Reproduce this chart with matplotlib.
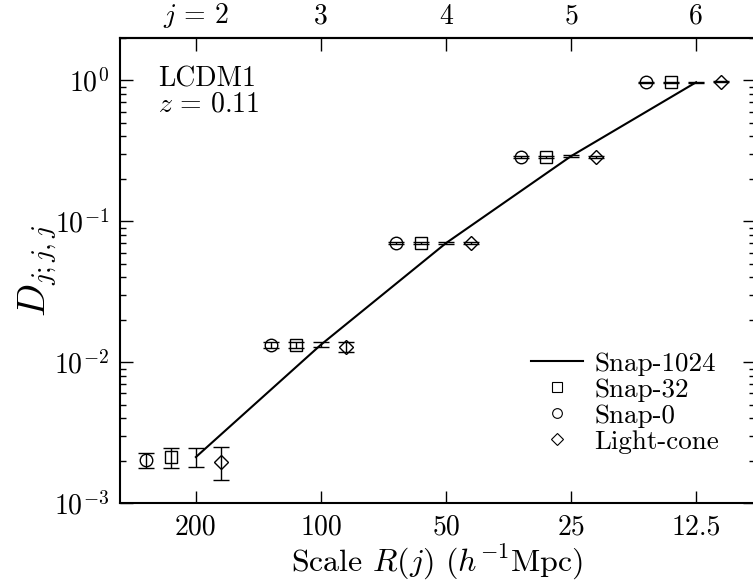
import numpy as np
import matplotlib
matplotlib.use("Agg")
from matplotlib import pyplot as plt
from matplotlib.lines import Line2D
from matplotlib.ticker import FixedLocator, FixedFormatter, LogLocator, NullLocator

plt.rcParams['font.family'] = 'serif'
plt.rcParams['font.serif'] = ['cmr10']
plt.rcParams['mathtext.fontset'] = 'cm'
plt.rcParams['axes.formatter.use_mathtext'] = True

# scales j and R(j) = 800 / 2^j  (h^-1 Mpc)
j = np.array([2, 3, 4, 5, 6])
R = np.array([200, 100, 50, 25, 12.5])
R_labels = ['200', '100', '50', '25', '12.5']
j_labels = ['$j\\,=\\,2$', '3', '4', '5', '6']

# D_{j;j,j} for each run
snap1024 = np.array([2.12e-3, 1.33e-2, 0.070, 0.290, 0.97])
snap1024_err = np.array([0.33e-3, 0.5e-3, 1.0e-3, 4.0e-3, 1.2e-2])
snap32 = np.array([2.12e-3, 1.32e-2, 0.070, 0.285, 0.97])
snap32_err = np.array([0.34e-3, 0.6e-3, 1.0e-3, 4.0e-3, 1.2e-2])
snap0 = np.array([2.02e-3, 1.32e-2, 0.070, 0.285, 0.97])
snap0_err = np.array([0.26e-3, 0.7e-3, 1.0e-3, 4.0e-3, 1.2e-2])
lightcone = np.array([1.97e-3, 1.29e-2, 0.070, 0.287, 0.98])
lightcone_err = np.array([0.52e-3, 1.1e-3, 1.0e-3, 4.0e-3, 1.2e-2])

# small horizontal shift (in units of j) so the runs don't overlap
shift_snap0 = -0.4
shift_snap32 = -0.2
shift_light = 0.2

fig = plt.figure(figsize=(7.53, 5.83), dpi=100)
ax = fig.add_axes([120/753, 80/583, 635/753, 465/583])

ax.set_xscale('log', base=2)
ax.set_yscale('log')

kw = dict(color='black', ecolor='black', elinewidth=1.0, capsize=5.5, capthick=1.0,
          markerfacecolor='none', markeredgecolor='black', markeredgewidth=1.0, markersize=9)

ax.errorbar(R * 2**(-shift_snap0), snap0, yerr=snap0_err, fmt='o', **kw)
ax.errorbar(R * 2**(-shift_snap32), snap32, yerr=snap32_err, fmt='s', **kw)
ax.errorbar(R, snap1024, yerr=snap1024_err, fmt='-', lw=1.5, **kw)
ax.errorbar(R * 2**(-shift_light), lightcone, yerr=lightcone_err, fmt='D', **{**kw, 'markersize': 7.5})

ax.set_xlim(304.6, 9.02)
ax.set_ylim(1e-3, 2.0)

ax.xaxis.set_major_locator(FixedLocator(R))
ax.xaxis.set_major_formatter(FixedFormatter(R_labels))
ax.xaxis.set_minor_locator(NullLocator())
ax.yaxis.set_major_locator(LogLocator(base=10, numticks=10))
ax.yaxis.set_minor_locator(LogLocator(base=10, subs=np.arange(2, 10), numticks=10))

ax.tick_params(which='major', direction='in', length=9, width=1.0, labelsize=20,
               right=True, top=False, pad=8)
ax.tick_params(which='minor', direction='in', length=4.5, width=1.0, right=True, top=False)
for s in ax.spines.values():
    s.set_linewidth(1.5)

top = ax.secondary_xaxis('top', functions=(lambda r: np.log2(800.0 / np.asarray(r, float)),
                                           lambda jj: 800.0 / 2**np.asarray(jj, float)))
top.xaxis.set_major_locator(FixedLocator(j))
top.xaxis.set_major_formatter(FixedFormatter(j_labels))
top.xaxis.set_minor_locator(NullLocator())
top.tick_params(direction='in', length=9, width=1.0, labelsize=20, pad=6)
top.spines['top'].set_linewidth(1.5)

ax.set_xlabel('Scale $R(j)$ $(h^{-1}\\mathrm{Mpc})$', fontsize=23, labelpad=2)
ax.set_ylabel('$D_{j;j,j}$', fontsize=28, labelpad=-4)

ax.text(0.06, 0.94, 'LCDM1\n$z\\,=\\,0.11$', transform=ax.transAxes, fontsize=20,
        va='top', ha='left', linespacing=0.95)

handles = [
    Line2D([], [], color='black', lw=1.5),
    Line2D([], [], ls='none', marker='s', markersize=7, markerfacecolor='none',
           markeredgecolor='black', markeredgewidth=0.8),
    Line2D([], [], ls='none', marker='o', markersize=7, markerfacecolor='none',
           markeredgecolor='black', markeredgewidth=0.8),
    Line2D([], [], ls='none', marker='D', markersize=6, markerfacecolor='none',
           markeredgecolor='black', markeredgewidth=0.8),
]
labels = ['Snap-1024', 'Snap-32', 'Snap-0', 'Light-cone']
fig.legend(handles, labels, loc='upper left', bbox_to_anchor=(517/753, 1 - 338/583),
           frameon=False, fontsize=19.5, borderpad=0, labelspacing=0.08,
           handlelength=1.95, handletextpad=0.4)

fig.savefig('out.png', dpi=100)
